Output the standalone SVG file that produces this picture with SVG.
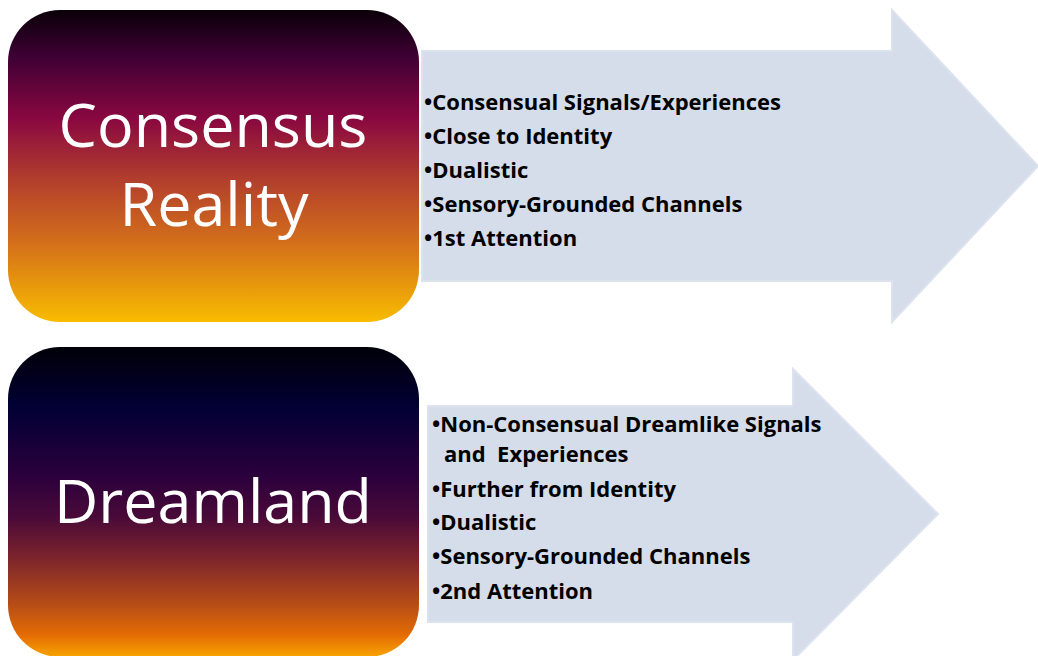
<svg xmlns="http://www.w3.org/2000/svg" width="1038" height="656" viewBox="0 0 1038 656">
<style>
.arrow{fill:#d5dcea;stroke:#dce2ee;stroke-width:2}
.title{font-family:"Open Sans","Noto Sans",sans-serif;fill:#ffffff;font-size:61px;text-anchor:middle}
.item{font-family:"Open Sans","Noto Sans",sans-serif;font-weight:bold;font-size:22px;fill:#000000}
</style>
<defs>
<linearGradient id="g1" x1="0" y1="0" x2="0" y2="1">
<stop offset="0" stop-color="#0a0008"/>
<stop offset="0.15" stop-color="#3e0034"/>
<stop offset="0.35" stop-color="#8a0840"/>
<stop offset="0.55" stop-color="#b3402c"/>
<stop offset="0.75" stop-color="#d4701a"/>
<stop offset="1" stop-color="#f8bc00"/>
</linearGradient>
<linearGradient id="g2" x1="0" y1="0" x2="0" y2="1">
<stop offset="0" stop-color="#000008"/>
<stop offset="0.2" stop-color="#020035"/>
<stop offset="0.42" stop-color="#2c003c"/>
<stop offset="0.55" stop-color="#4a0a38"/>
<stop offset="0.68" stop-color="#7c242c"/>
<stop offset="0.82" stop-color="#b24a18"/>
<stop offset="0.93" stop-color="#e46c04"/>
<stop offset="1" stop-color="#f8a400"/>
</linearGradient>
</defs>
<g id="connectors">
<path id="arrow1" class="arrow" d="M422,51 H892 V10 L1038,166 L892,322 V281 H422 Z"/>
<path id="arrow2" class="arrow" d="M428,406 H793 V369 L938,514 L793,660 V622 H428 Z"/>
</g>
<g id="node-consensus">
<rect x="8" y="10" width="411" height="312" rx="52" ry="52" fill="url(#g1)"/>
<text class="title" x="213" y="147">Consensus</text>
<text class="title" x="214" y="226">Reality</text>
</g>
<g id="node-dreamland">
<rect x="8" y="347" width="411" height="310" rx="52" ry="52" fill="url(#g2)"/>
<text class="title" x="213" y="523">Dreamland</text>
</g>
<g id="list-consensus">
<text class="item" x="424" y="110">•Consensual Signals/Experiences</text>
<text class="item" x="424" y="144">•Close to Identity</text>
<text class="item" x="424" y="178">•Dualistic</text>
<text class="item" x="424" y="212">•Sensory-Grounded Channels</text>
<text class="item" x="424" y="246">•1st Attention</text>
</g>
<g id="list-dreamland">
<text class="item" x="432" y="432">•Non-Consensual Dreamlike Signals</text>
<text class="item" x="444" y="462" xml:space="preserve">and  Experiences</text>
<text class="item" x="432" y="497">•Further from Identity</text>
<text class="item" x="432" y="530">•Dualistic</text>
<text class="item" x="432" y="564">•Sensory-Grounded Channels</text>
<text class="item" x="432" y="599">•2nd Attention</text>
</g>
</svg>
